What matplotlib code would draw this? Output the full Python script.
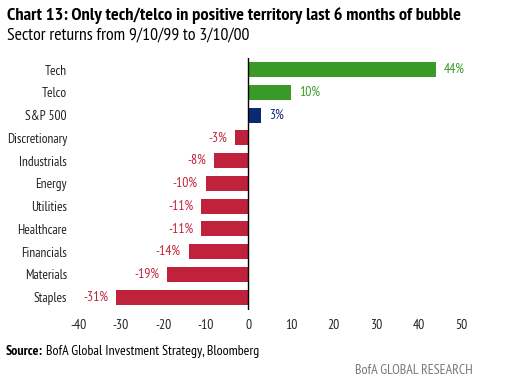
import matplotlib
matplotlib.use("Agg")
import matplotlib.pyplot as plt

sectors = ["Tech", "Telco", "S&P 500", "Discretionary", "Industrials", "Energy",
           "Utilities", "Healthcare", "Financials", "Materials", "Staples"]
returns = [44, 10, 3, -3, -8, -10, -11, -11, -14, -19, -31]
xticks = [-40, -30, -20, -10, 0, 10, 20, 30, 40, 50]

GREEN = "#3a9a28"
NAVY = "#0b2a72"
RED = "#c0223b"

plt.rcParams["font.family"] = ["PT Sans Narrow", "DejaVu Sans"]


def colour(name, v):
    if name == "S&P 500":
        return NAVY
    return GREEN if v > 0 else RED


fig = plt.figure(figsize=(5.10, 3.83), dpi=100)
ax = fig.add_axes([0.153, 0.19, 0.751, 0.659])

ypos = list(range(len(sectors) - 1, -1, -1))
cols = [colour(s, v) for s, v in zip(sectors, returns)]
ax.barh(ypos, returns, height=0.66, color=cols)

for y, v, c in zip(ypos, returns, cols):
    if v >= 0:
        ax.annotate(f"{v}%", (v, y), xytext=(6, 0), textcoords="offset points",
                    ha="left", va="center", color=c, fontsize=9.8)
    else:
        ax.annotate(f"{v}%", (v, y), xytext=(-6, 0), textcoords="offset points",
                    ha="right", va="center", color=c, fontsize=9.8)

ax.axvline(0, color="black", linewidth=1.0)
ax.set_xlim(-40, 50)
ax.set_ylim(-0.57, 10.52)
ax.set_xticks(xticks)
ax.set_xticklabels([str(t) for t in xticks], fontsize=9.8, color="#222222")
ax.set_yticks(ypos)
ax.set_yticklabels(sectors, fontsize=9.6, color="#222222")
ax.tick_params(length=0, axis="y", pad=8)
ax.tick_params(length=0, axis="x", pad=6)
for s in ax.spines.values():
    s.set_visible(False)

fig.text(0.014, 0.96, "Chart 13: Only tech/telco in positive territory last 6 months of bubble",
         fontsize=13.2, fontweight="bold", ha="left", va="center")
fig.text(0.014, 0.908, "Sector returns from 9/10/99 to 3/10/00",
         fontsize=12.8, ha="left", va="center")
fig.text(0.012, 0.081, "Source:", fontsize=10, fontweight="bold",
         ha="left", va="center")
fig.text(0.091, 0.081, "BofA Global Investment Strategy, Bloomberg",
         fontsize=10, ha="left", va="center")
fig.text(0.927, 0.033, "BofA GLOBAL RESEARCH", fontsize=10, color="#777777",
         ha="right", va="center")

fig.savefig("out.png", dpi=100)
